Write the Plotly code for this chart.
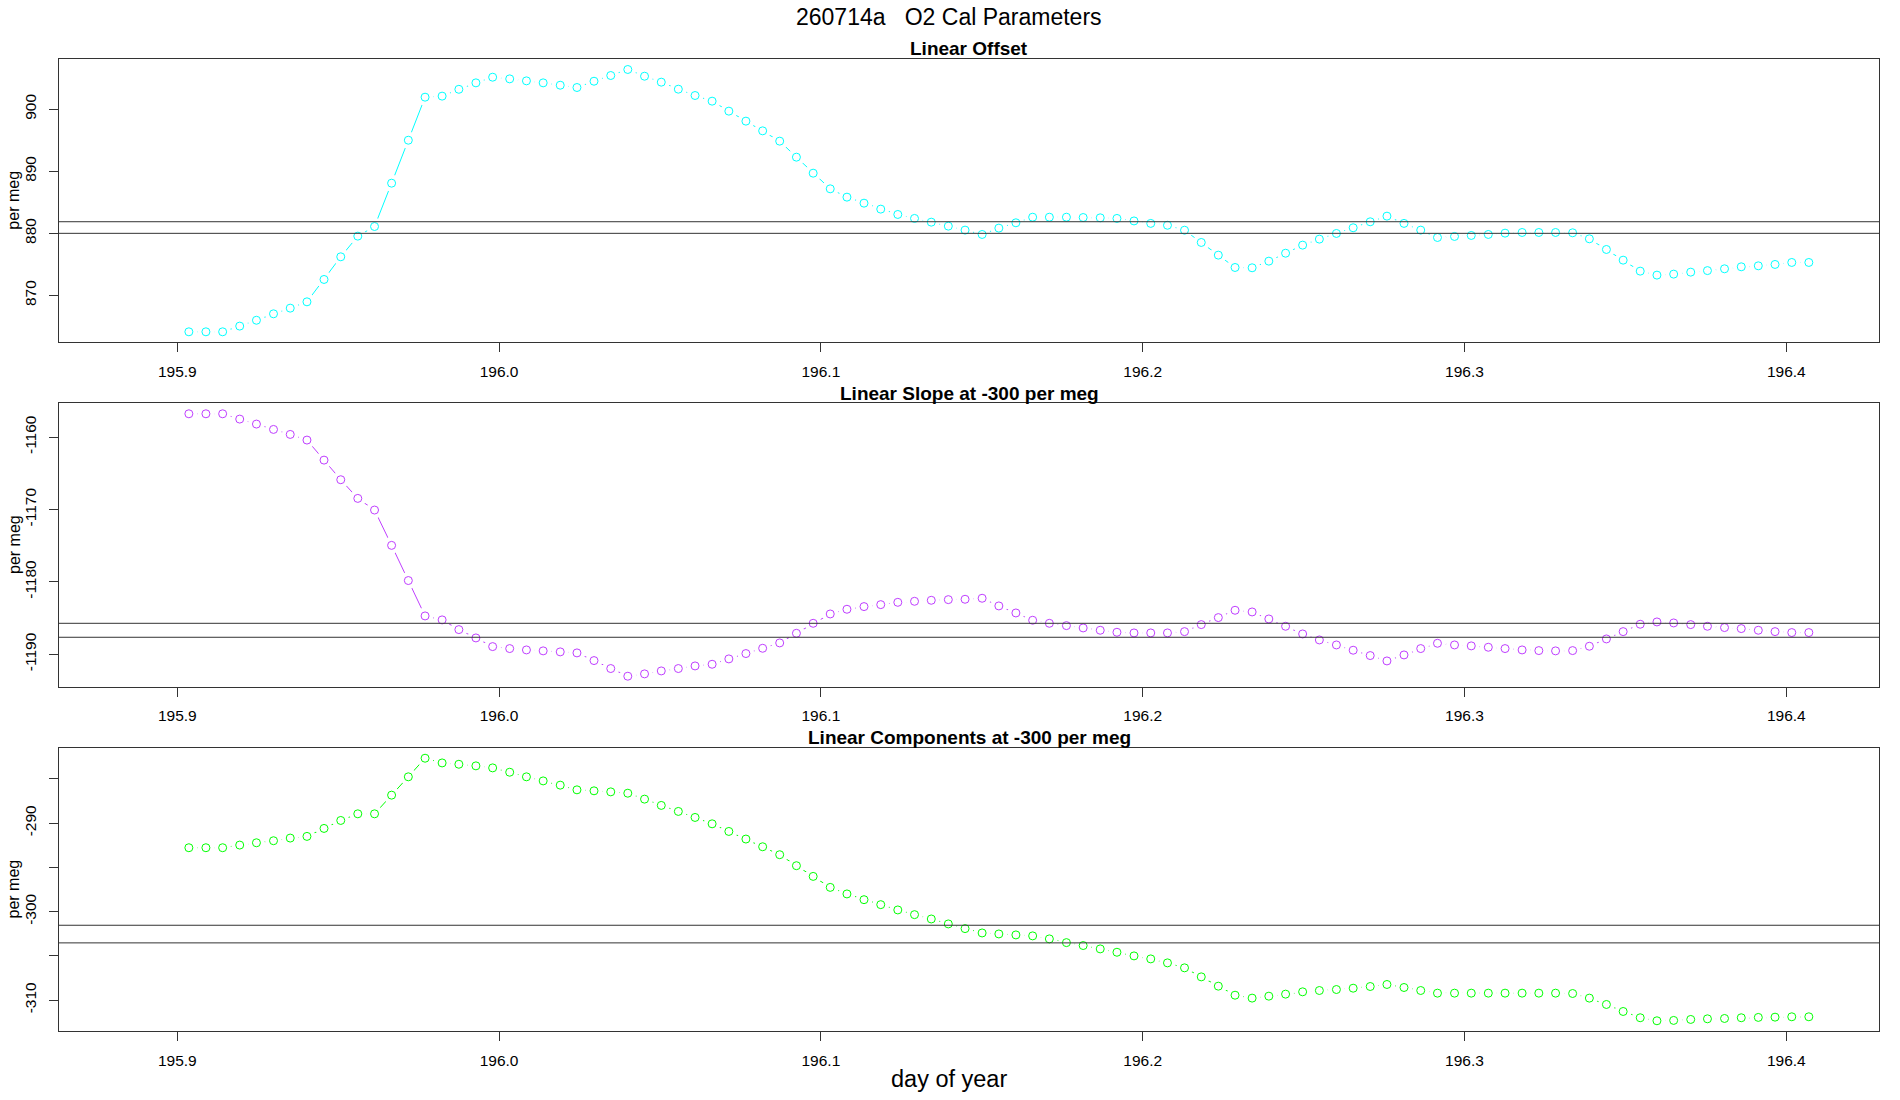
import plotly.graph_objects as go

# ---------------- data ----------------
day_of_year = [
    195.9036, 195.9089, 195.9141, 195.9194, 195.9246, 195.9299, 195.9351, 195.9403, 195.9456, 195.9508,
    195.9561, 195.9613, 195.9666, 195.9718, 195.9770, 195.9823, 195.9875, 195.9928, 195.9980, 196.0033,
    196.0085, 196.0137, 196.0190, 196.0242, 196.0295, 196.0347, 196.0400, 196.0452, 196.0504, 196.0557,
    196.0609, 196.0662, 196.0714, 196.0767, 196.0819, 196.0872, 196.0924, 196.0976, 196.1029, 196.1081,
    196.1134, 196.1186, 196.1239, 196.1291, 196.1343, 196.1396, 196.1448, 196.1501, 196.1553, 196.1606,
    196.1658, 196.1710, 196.1763, 196.1815, 196.1868, 196.1920, 196.1973, 196.2025, 196.2077, 196.2130,
    196.2182, 196.2235, 196.2287, 196.2340, 196.2392, 196.2444, 196.2497, 196.2549, 196.2602, 196.2654,
    196.2707, 196.2759, 196.2812, 196.2864, 196.2916, 196.2969, 196.3021, 196.3074, 196.3126, 196.3179,
    196.3231, 196.3283, 196.3336, 196.3388, 196.3441, 196.3493, 196.3546, 196.3598, 196.3650, 196.3703,
    196.3755, 196.3808, 196.3860, 196.3913, 196.3965, 196.4017, 196.4070,
]

linear_offset = [
    864.14, 864.14, 864.14, 865.06, 866.00, 867.04, 867.95, 868.97, 872.57, 876.22,
    879.55, 881.10, 888.08, 895.00, 901.93, 902.10, 903.20, 904.24, 905.15, 904.88,
    904.56, 904.24, 903.86, 903.49, 904.50, 905.42, 906.39, 905.31, 904.35, 903.22,
    902.20, 901.29, 899.68, 898.07, 896.51, 894.85, 892.27, 889.69, 887.17, 885.83,
    884.86, 883.90, 883.04, 882.40, 881.80, 881.16, 880.52, 879.82, 880.84, 881.70,
    882.60, 882.60, 882.60, 882.55, 882.50, 882.40, 882.00, 881.60, 881.30, 880.50,
    878.53, 876.49, 874.50, 874.45, 875.52, 876.80, 878.10, 879.07, 879.98, 880.90,
    881.86, 882.77, 881.60, 880.52, 879.33, 879.50, 879.66, 879.82, 880.03, 880.14,
    880.14, 880.14, 880.09, 879.12, 877.40, 875.68, 873.91, 873.27, 873.43, 873.75,
    874.00, 874.29, 874.61, 874.77, 874.99, 875.31, 875.31,
]

linear_slope = [
    -1156.78, -1156.78, -1156.78, -1157.51, -1158.20, -1158.94, -1159.63, -1160.41, -1163.18, -1165.89,
    -1168.47, -1170.08, -1174.96, -1179.82, -1184.71, -1185.26, -1186.60, -1187.75, -1188.95, -1189.22,
    -1189.41, -1189.54, -1189.68, -1189.82, -1190.88, -1191.98, -1193.04, -1192.72, -1192.31, -1191.98,
    -1191.62, -1191.39, -1190.65, -1189.91, -1189.18, -1188.44, -1187.11, -1185.73, -1184.44, -1183.79,
    -1183.42, -1183.15, -1182.83, -1182.69, -1182.55, -1182.46, -1182.41, -1182.27, -1183.33, -1184.30,
    -1185.31, -1185.73, -1186.05, -1186.37, -1186.69, -1186.97, -1187.06, -1187.06, -1187.06, -1186.88,
    -1185.91, -1184.94, -1183.93, -1184.16, -1185.13, -1186.14, -1187.20, -1188.03, -1188.72, -1189.45,
    -1190.19, -1190.93, -1190.10, -1189.22, -1188.49, -1188.72, -1188.85, -1189.04, -1189.22, -1189.41,
    -1189.50, -1189.54, -1189.50, -1188.90, -1187.89, -1186.88, -1185.86, -1185.54, -1185.68, -1185.91,
    -1186.14, -1186.32, -1186.46, -1186.69, -1186.88, -1187.01, -1187.01,
]

linear_components = [
    -292.78, -292.78, -292.78, -292.48, -292.22, -291.99, -291.69, -291.50, -290.60, -289.70,
    -288.95, -288.95, -286.84, -284.77, -282.67, -283.20, -283.35, -283.53, -283.76, -284.25,
    -284.77, -285.23, -285.71, -286.24, -286.35, -286.47, -286.62, -287.29, -288.00, -288.68,
    -289.36, -290.08, -290.94, -291.80, -292.67, -293.57, -294.81, -296.02, -297.26, -298.00,
    -298.65, -299.21, -299.81, -300.34, -300.83, -301.39, -301.92, -302.41, -302.52, -302.63,
    -302.74, -303.08, -303.50, -303.83, -304.21, -304.59, -305.00, -305.34, -305.79, -306.35,
    -307.37, -308.42, -309.44, -309.77, -309.55, -309.32, -309.06, -308.91, -308.80, -308.65,
    -308.46, -308.23, -308.57, -308.91, -309.21, -309.21, -309.21, -309.21, -309.21, -309.21,
    -309.21, -309.21, -309.25, -309.77, -310.49, -311.28, -311.99, -312.33, -312.29, -312.18,
    -312.11, -312.07, -311.99, -311.95, -311.92, -311.88, -311.88,
]

offset_ref_lines = [881.87, 880.0]
slope_ref_lines = [-1185.73, -1187.66]
components_ref_lines = [-301.54, -303.53]

x_ticks = [195.9, 196.0, 196.1, 196.2, 196.3, 196.4]
x_tick_labels = ["195.9", "196.0", "196.1", "196.2", "196.3", "196.4"]
offset_ticks = [870, 880, 890, 900]
slope_ticks = [-1190, -1180, -1170, -1160]
comp_ticks = [-310, -305, -300, -295, -290, -285]
comp_tick_labels = ["-310", "", "-300", "", "-290", ""]

main_title = "260714a\u00a0\u00a0\u00a0O2 Cal Parameters"
panel_titles = ["Linear Offset", "Linear Slope at -300 per meg", "Linear Components at -300 per meg"]
y_label = "per meg"
x_label = "day of year"

# ---------------- style / layout ----------------
FONT = "Liberation Sans, Arial, Helvetica, sans-serif"
colors = ["#00FFFF", "#BF3EFF", "#00FF00"]
series = [linear_offset, linear_slope, linear_components]
ref_lines = [offset_ref_lines, slope_ref_lines, components_ref_lines]

x_domain = [0.03089, 0.98911]
x_range = [195.86315, 196.4289]
y_domains = [[0.68882, 0.94636], [0.37573, 0.63336], [0.06245, 0.32027]]
y_ranges = [[862.45, 908.08], [-1194.49, -1155.33], [-313.52, -281.48]]
y_tickvals = [offset_ticks, slope_ticks, comp_ticks]
y_ticktext = [[str(v) for v in offset_ticks], [str(v) for v in slope_ticks], comp_tick_labels]
title_cap_centers = [48.3, 393.7, 737.7]
H = 1100.0

fig = go.Figure()
layout = dict(
    width=1900, height=1100, autosize=False,
    margin=dict(l=0, r=0, t=0, b=0),
    paper_bgcolor="white", plot_bgcolor="white",
    showlegend=False,
    font=dict(family=FONT, color="black", size=15),
)
shapes = []
annotations = []

for i in range(3):
    n = "" if i == 0 else str(i + 1)
    xa, ya = "x" + n, "y" + n
    c = colors[i]
    ys = series[i]
    # connecting line
    fig.add_trace(go.Scatter(x=day_of_year, y=ys, mode="lines", xaxis=xa, yaxis=ya,
                             line=dict(color=c, width=1), hoverinfo="skip"))
    # white mask to create gaps around points (R type="b")
    fig.add_trace(go.Scatter(x=day_of_year, y=ys, mode="markers", xaxis=xa, yaxis=ya,
                             marker=dict(symbol="circle", size=17, color="white",
                                         line=dict(width=0)), hoverinfo="skip"))
    # open circles
    fig.add_trace(go.Scatter(x=day_of_year, y=ys, mode="markers", xaxis=xa, yaxis=ya,
                             marker=dict(symbol="circle-open", size=8, color=c,
                                         line=dict(width=1, color=c))))

    layout["xaxis" + n] = dict(
        domain=x_domain, range=x_range, anchor=ya,
        tickvals=x_ticks, ticktext=x_tick_labels,
        ticks="outside", ticklen=9, tickwidth=1, tickcolor="#333",
        showline=True, mirror=True, linecolor="#333", linewidth=1,
        showgrid=False, zeroline=False, automargin=False,
        tickfont=dict(family=FONT, size=15.5, color="black"),
        ticklabelstandoff=6,
    )
    layout["yaxis" + n] = dict(
        domain=y_domains[i], range=y_ranges[i], anchor=xa,
        tickvals=y_tickvals[i], ticktext=y_ticktext[i], tickangle=-90,
        ticks="outside", ticklen=9, tickwidth=1, tickcolor="#333",
        showline=True, mirror=True, linecolor="#333", linewidth=1,
        showgrid=False, zeroline=False, automargin=False,
        tickfont=dict(family=FONT, size=15.5, color="black"),
        ticklabelstandoff=7,
    )
    for v in ref_lines[i]:
        shapes.append(dict(type="line", xref=xa + " domain", yref=ya, x0=0, x1=1, y0=v, y1=v,
                           line=dict(color="#333", width=1), layer="above"))
    annotations.append(dict(text="<b>%s</b>" % panel_titles[i], xref="paper", yref="paper",
                            x=(x_domain[0] + x_domain[1]) / 2, y=1 - title_cap_centers[i] / H,
                            xanchor="center", yanchor="middle", showarrow=False,
                            font=dict(family=FONT, size=19, color="black")))
    annotations.append(dict(text=y_label, xref="paper", yref="paper",
                            x=14 / 1900, y=(y_domains[i][0] + y_domains[i][1]) / 2,
                            xanchor="center", yanchor="middle", textangle=-90, showarrow=False,
                            font=dict(family=FONT, size=16, color="black")))

annotations.append(dict(text=main_title, xref="paper", yref="paper", x=948.7 / 1900, y=1 - 16.7 / H,
                        xanchor="center", yanchor="middle", showarrow=False,
                        font=dict(family=FONT, size=23, color="black")))
annotations.append(dict(text=x_label, xref="paper", yref="paper", x=949 / 1900, y=1 - 1078.8 / H,
                        xanchor="center", yanchor="middle", showarrow=False,
                        font=dict(family=FONT, size=23.5, color="black")))

layout["shapes"] = shapes
layout["annotations"] = annotations
fig.update_layout(**layout)

fig.write_html("out.html")
